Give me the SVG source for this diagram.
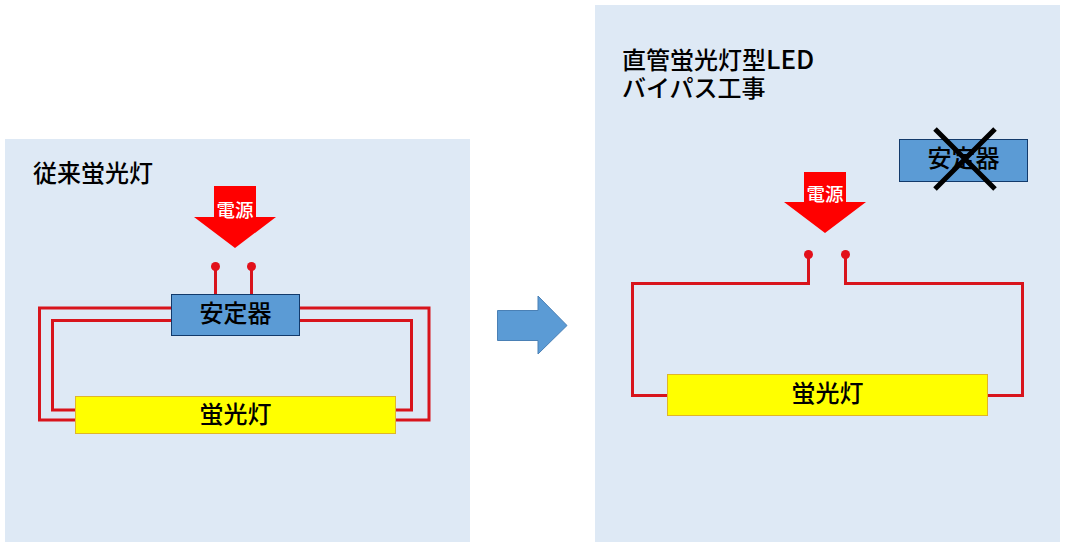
<svg xmlns="http://www.w3.org/2000/svg" width="1065" height="547" viewBox="0 0 1065 547">
<style>
.panel{fill:#dee9f5}
.wire{fill:none;stroke:#d8141c;stroke-width:3}
.dot{fill:#e2101a}
.box{fill:#5b9bd5;stroke:#123a6b;stroke-width:1}
.lamp{fill:#ffff00;stroke:#e0b52a;stroke-width:1}
.power{fill:#ff0000}
text{font-family:"Noto Sans CJK JP","Noto Sans",sans-serif;font-size:24px;fill:#000;font-weight:500}
.mid{text-anchor:middle}
.pw{font-size:18.500px;fill:#fff;font-weight:500}
</style>
<rect id="panel-left" class="panel" x="5" y="139" width="465" height="403"/>
<rect id="panel-right" class="panel" x="595" y="5" width="465" height="537"/>
<g id="connectors">
<path class="wire" d="M215.500 266V294M251.500 266V294"/>
<path class="wire" d="M172 308H39.500V420H75M172 320.500H52.500V410H75"/>
<path class="wire" d="M299 308H429V420H396M299 320.500H411.500V410H396"/>
<path class="wire" d="M808.500 254V283.500H632.500V395.500H667M845.500 254V283.500H1022.500V395.500H988"/>
<circle class="dot" cx="215.500" cy="266.500" r="4.500"/>
<circle class="dot" cx="251.500" cy="266.500" r="4.500"/>
<circle class="dot" cx="808.500" cy="254.500" r="4.500"/>
<circle class="dot" cx="845.500" cy="254.500" r="4.500"/>
</g>
<g id="title-left"><text x="33" y="182">従来蛍光灯</text></g>
<g id="power-left">
<path class="power" d="M214 186H256V217H276L235 248L194 217H214Z"/>
<text class="mid pw" x="235" y="217">電源</text>
</g>
<g id="ballast-left">
<rect class="box" x="171.500" y="294.500" width="128" height="41"/>
<text class="mid" x="235.500" y="322">安定器</text>
</g>
<g id="lamp-left">
<rect class="lamp" x="75.500" y="396.500" width="320" height="37"/>
<text class="mid" x="235.500" y="423">蛍光灯</text>
</g>
<g id="transition-arrow">
<path d="M497.500 310.500H538V296L567 325.500L538 354V340.500H497.500Z" fill="#5b9bd5" stroke="#4a80b5" stroke-width="1"/>
</g>
<g id="title-right">
<text x="622" y="69">直管蛍光灯型<tspan font-size="26">LED</tspan><tspan x="622" y="97">バイパス工事</tspan></text>
</g>
<g id="power-right">
<path class="power" d="M804 172H846V202H866L825 233L784 202H804Z"/>
<text class="mid pw" x="825" y="201">電源</text>
</g>
<g id="ballast-right">
<rect class="box" x="899.500" y="139.500" width="128" height="42"/>
<text class="mid" x="963.500" y="167">安定器</text>
<path d="M935 129L995 189M995 129L935 189" fill="none" stroke="#000" stroke-width="5"/>
</g>
<g id="lamp-right">
<rect class="lamp" x="667.500" y="374.500" width="320" height="41"/>
<text class="mid" x="827.500" y="402">蛍光灯</text>
</g>
</svg>
